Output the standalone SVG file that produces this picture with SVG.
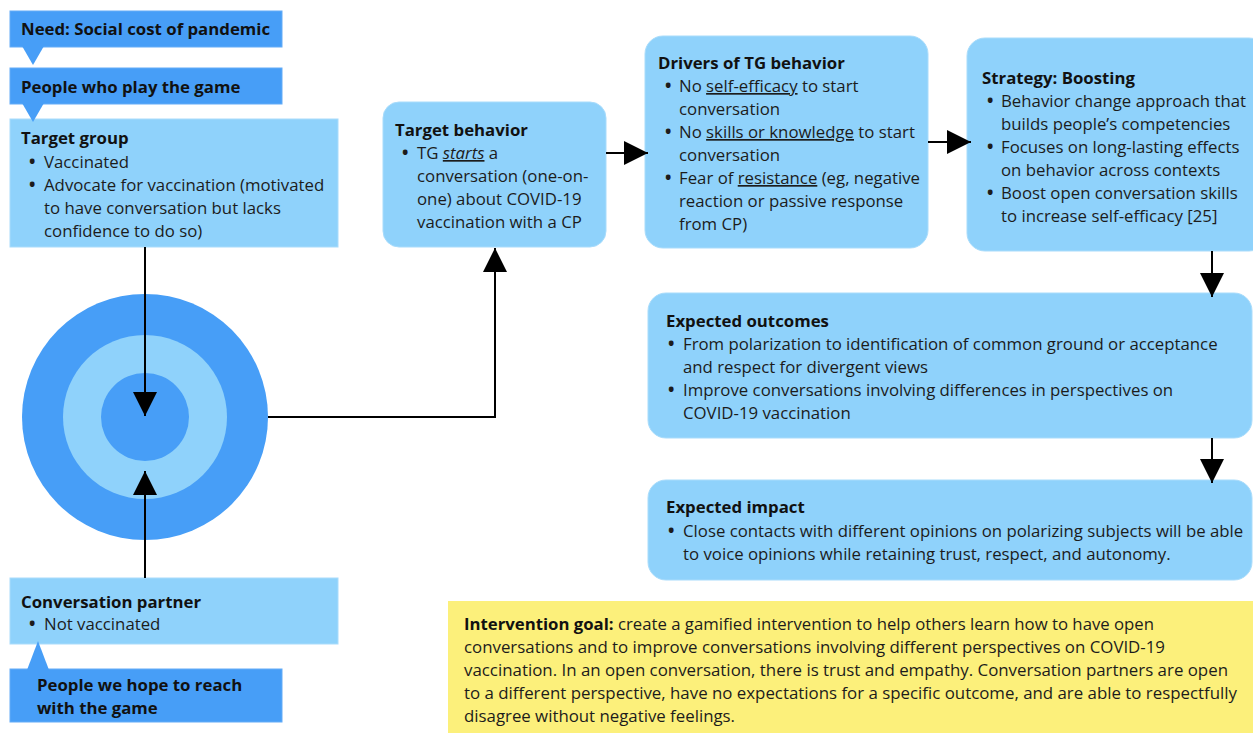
<svg xmlns="http://www.w3.org/2000/svg" width="1253" height="733" viewBox="0 0 1253 733">
<defs>
<marker id="ah" markerUnits="userSpaceOnUse" markerWidth="24" markerHeight="24" refX="24" refY="12" orient="auto">
<path d="M0,0 L24,12 L0,24 z" fill="#000"/>
</marker>
<style>
text{font-family:"Open Sans","Noto Sans","DejaVu Sans",sans-serif;font-size:16.8px;fill:#1c1c1c}
.h{font-weight:bold;fill:#111}
.b{font-weight:bold;font-size:17px}
.dark{fill:#479ef7}
.light{fill:#8fd2fb}
.box{fill:#8fd2fb;stroke:#a9dcfb;stroke-width:1}
.dbox{fill:#479ef7;stroke:#64acf7;stroke-width:1}
.conn{stroke:#000;stroke-width:2;fill:none}
.u{text-decoration:underline}
.goal text{font-size:16px}
</style>
</defs>
<rect width="1253" height="733" fill="#fff"/>

<g id="target-circle">
<circle cx="145" cy="417" r="123" class="dark"/>
<circle cx="145" cy="417" r="82" class="light"/>
<circle cx="145" cy="417" r="44" class="dark"/>
</g>

<g id="need">
<rect x="10" y="11" width="272" height="36" class="dbox"/>
<polygon points="22,46 44,46 33,65" class="dark"/>
<text x="21" y="35" class="h">Need: Social cost of pandemic</text>
</g>

<g id="players">
<rect x="10" y="68" width="272" height="36" class="dbox"/>
<text x="21" y="93" class="h">People who play the game</text>
</g>

<g id="target-group">
<rect x="10" y="119" width="328" height="128" class="box"/>
<polygon points="22,103 44,103 33,122" class="dark"/>
<text x="21" y="144" class="h">Target group</text>
<text x="29" y="168" class="b">•</text><text x="44" y="168">Vaccinated</text>
<text x="29" y="191" class="b">•</text><text x="44" y="191">Advocate for vaccination (motivated</text>
<text x="44" y="214">to have conversation but lacks</text>
<text x="44" y="237">confidence to do so)</text>
</g>

<g id="conversation-partner">
<rect x="10" y="578" width="328" height="66" class="box"/>
<text x="21" y="608" class="h">Conversation partner</text>
<text x="29" y="630" class="b">•</text><text x="44" y="630">Not vaccinated</text>
</g>

<g id="reach">
<rect x="10" y="669" width="272" height="53" class="dbox"/>
<polygon points="27,670 49,670 38,641" class="dark"/>
<text x="37" y="691" class="h">People we hope to reach</text>
<text x="37" y="714" class="h">with the game</text>
</g>

<g id="target-behavior">
<rect x="383" y="102" width="223" height="145" rx="16" class="box"/>
<text x="395" y="136" class="h">Target behavior</text>
<text x="402" y="159" class="b">•</text><text x="417" y="159">TG <tspan font-style="italic" class="u">starts</tspan> a</text>
<text x="417" y="182">conversation (one-on-</text>
<text x="417" y="205">one) about COVID-19</text>
<text x="417" y="228">vaccination with a CP</text>
</g>

<g id="drivers">
<rect x="645" y="36" width="283" height="212" rx="18" class="box"/>
<text x="658" y="69" class="h">Drivers of TG behavior</text>
<text x="665" y="92" class="b">•</text><text x="679" y="92">No <tspan class="u">self-efficacy</tspan> to start</text>
<text x="679" y="115">conversation</text>
<text x="665" y="138" class="b">•</text><text x="679" y="138">No <tspan class="u">skills or knowledge</tspan> to start</text>
<text x="679" y="161">conversation</text>
<text x="665" y="184" class="b">•</text><text x="679" y="184">Fear of <tspan class="u">resistance</tspan> (eg, negative</text>
<text x="679" y="207">reaction or passive response</text>
<text x="679" y="230">from CP)</text>
</g>

<g id="strategy">
<rect x="967" y="38" width="300" height="213" rx="18" class="box"/>
<text x="982" y="84" class="h">Strategy: Boosting</text>
<text x="987" y="107" class="b">•</text><text x="1001" y="107">Behavior change approach that</text>
<text x="1001" y="130">builds people’s competencies</text>
<text x="987" y="153" class="b">•</text><text x="1001" y="153">Focuses on long-lasting effects</text>
<text x="1001" y="176">on behavior across contexts</text>
<text x="987" y="199" class="b">•</text><text x="1001" y="199">Boost open conversation skills</text>
<text x="1001" y="222">to increase self-efficacy [25]</text>
</g>

<g id="outcomes">
<rect x="648" y="293" width="604" height="145" rx="18" class="box"/>
<text x="666" y="327" class="h">Expected outcomes</text>
<text x="668" y="350" class="b">•</text><text x="683" y="350">From polarization to identification of common ground or acceptance</text>
<text x="683" y="373">and respect for divergent views</text>
<text x="668" y="396" class="b">•</text><text x="683" y="396">Improve conversations involving differences in perspectives on</text>
<text x="683" y="419">COVID-19 vaccination</text>
</g>

<g id="impact">
<rect x="648" y="480" width="604" height="100" rx="18" class="box"/>
<text x="666" y="513" class="h">Expected impact</text>
<text x="668" y="537" class="b">•</text><text x="683" y="537">Close contacts with different opinions on polarizing subjects will be able</text>
<text x="683" y="560">to voice opinions while retaining trust, respect, and autonomy.</text>
</g>

<g id="goal" class="goal">
<rect x="448" y="601" width="810" height="135" fill="#fcf07b"/>
<text x="464" y="630" textLength="690" lengthAdjust="spacingAndGlyphs"><tspan class="h">Intervention goal:</tspan> create a gamified intervention to help others learn how to have open</text>
<text x="464" y="653" textLength="701" lengthAdjust="spacingAndGlyphs">conversations and to improve conversations involving different perspectives on COVID-19</text>
<text x="464" y="676" textLength="764" lengthAdjust="spacingAndGlyphs">vaccination. In an open conversation, there is trust and empathy. Conversation partners are open</text>
<text x="464" y="699" textLength="773" lengthAdjust="spacingAndGlyphs">to a different perspective, have no expectations for a specific outcome, and are able to respectfully</text>
<text x="464" y="722" textLength="271" lengthAdjust="spacingAndGlyphs">disagree without negative feelings.</text>
</g>

<g id="connectors">
<path d="M145,247 V416" class="conn" marker-end="url(#ah)"/>
<path d="M145,578 V471" class="conn" marker-end="url(#ah)"/>
<path d="M268,417 H495 V248" class="conn" marker-end="url(#ah)"/>
<path d="M606,153 H648" class="conn" marker-end="url(#ah)"/>
<path d="M928,142 H971" class="conn" marker-end="url(#ah)"/>
<path d="M1212,251 V297" class="conn" marker-end="url(#ah)"/>
<path d="M1212,438 V483" class="conn" marker-end="url(#ah)"/>
</g>
</svg>
